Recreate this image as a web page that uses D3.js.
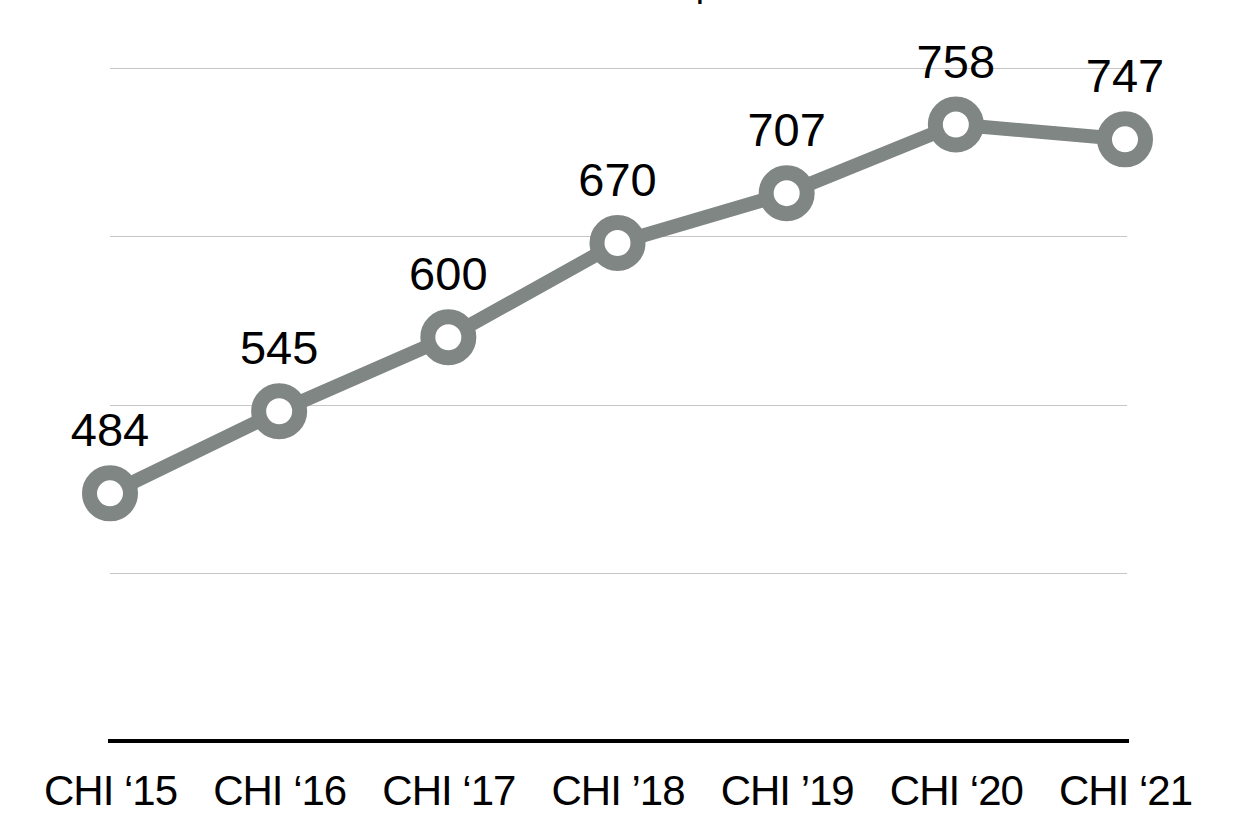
<!DOCTYPE html>
<html>
<head>
<meta charset="utf-8">
<script src="https://cdn.jsdelivr.net/npm/d3@7"></script>
<style>
  html, body { margin: 0; padding: 0; background: #fff; }
  svg { display: block; }
  text { font-family: "Liberation Sans", Arial, Helvetica, sans-serif; fill: #000; }
</style>
</head>
<body>
<svg id="chart" width="1238" height="822"></svg>
<script>
const titleText = "Number of Papers";
const categories = ["CHI \u201815", "CHI \u201816", "CHI \u201817", "CHI \u201918", "CHI \u201919", "CHI \u201820", "CHI \u201821"];
const values = [484, 545, 600, 670, 707, 758, 747];
const yDomain = [300, 800];
const yTicks = [425, 550, 675, 800];

const svg = d3.select("#chart");
const lineColor = "#7f8683";

const x = d3.scalePoint().domain(categories).range([110, 1125]);
const y = d3.scaleLinear().domain(yDomain).range([741, 68]);

// title (mostly cropped off the top)
svg.append("text")
  .attr("x", 617.5).attr("y", -4)
  .attr("text-anchor", "middle")
  .style("font-size", "37px")
  .text(titleText);

// gridlines
svg.append("g").selectAll("line").data(yTicks).join("line")
  .attr("x1", 110).attr("x2", 1127)
  .attr("y1", d => Math.round(y(d)) + 0.5).attr("y2", d => Math.round(y(d)) + 0.5)
  .attr("stroke", "#c6c6c6").attr("stroke-width", 1);

// x axis
const xAxis = svg.append("g").attr("transform", `translate(0,${y(yDomain[0])})`)
  .call(d3.axisBottom(x).tickSize(0).tickPadding(0));
xAxis.select(".domain").remove();
xAxis.selectAll(".tick text")
  .attr("y", 64).attr("dy", 0)
  .style("font-size", "42px")
  .style("letter-spacing", "-1px")
  .style("font-family", "'Liberation Sans', Arial, sans-serif")
  .attr("fill", "#000");
svg.append("line")
  .attr("x1", 108).attr("x2", 1129)
  .attr("y1", y(yDomain[0])).attr("y2", y(yDomain[0]))
  .attr("stroke", "#000").attr("stroke-width", 4);

// line
const line = d3.line().x((d, i) => x(categories[i])).y(d => y(d));
svg.append("path").datum(values)
  .attr("d", line)
  .attr("fill", "none")
  .attr("stroke", lineColor)
  .attr("stroke-width", 14)
  .attr("stroke-linejoin", "round");

// points
svg.append("g").selectAll("circle").data(values).join("circle")
  .attr("cx", (d, i) => x(categories[i]))
  .attr("cy", d => y(d))
  .attr("r", 20.5)
  .attr("fill", "#fff")
  .attr("stroke", lineColor)
  .attr("stroke-width", 15);

// value labels
svg.append("g").selectAll("text").data(values).join("text")
  .attr("x", (d, i) => x(categories[i]))
  .attr("y", d => y(d) - 47)
  .attr("text-anchor", "middle")
  .style("font-size", "47px")
  .text(d => d);
</script>
</body>
</html>
